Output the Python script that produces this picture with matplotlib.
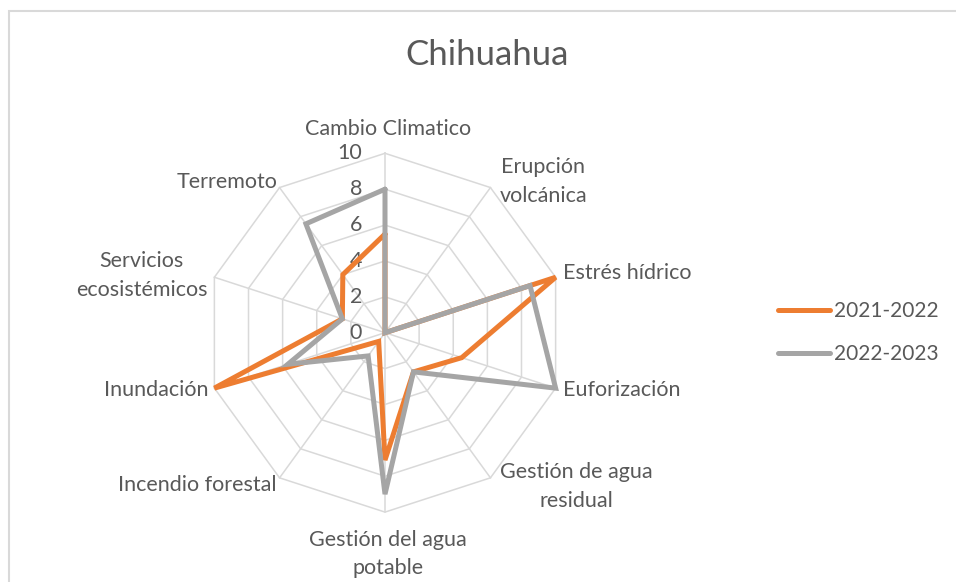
import numpy as np
import matplotlib
matplotlib.use("Agg")
import matplotlib.pyplot as plt
from matplotlib.patches import Rectangle

plt.rcParams['font.family'] = ['Lato', 'DejaVu Sans']

title = "Chihuahua"
categories = ["Cambio Climatico", "Erupción\nvolcánica", "Estrés hídrico", "Euforización",
              "Gestión de agua\nresidual", "Gestión del agua\npotable", "Incendio forestal",
              "Inundación", "Servicios\necosistémicos", "Terremoto"]
series_names = ["2021-2022", "2022-2023"]
values_2021 = [5.5, 0, 10, 4.5, 2.7, 7.1, 0.6, 10, 2.5, 4.0]
values_2022 = [8, 0, 8.5, 10, 2.7, 9, 1.6, 5.7, 2.5, 7.5]
rticks = [0, 2, 4, 6, 8, 10]

colors = ["#ED7D31", "#A5A5A5"]
grid_color = "#D9D9D9"
text_color = "#595959"

W, H = 956, 582
fig = plt.figure(figsize=(W / 100, H / 100), dpi=100)
cx, cy, R = 385, 332.7, 179.4
ax = fig.add_axes([(cx - R) / W, (H - cy - R) / H, 2 * R / W, 2 * R / H], projection='polar')
ax.set_theta_zero_location('N')
ax.set_theta_direction(-1)
ax.set_ylim(0, 10)
ax.grid(False)
ax.spines['polar'].set_visible(False)
ax.set_xticks([])
ax.set_yticks([])
ax.patch.set_alpha(0)

n = len(categories)
angles = np.arange(n) * 2 * np.pi / n
ang_c = np.append(angles, angles[0])

fs = 15.5

# polygon grid
for r in rticks[1:]:
    ax.plot(ang_c, [r] * (n + 1), color=grid_color, lw=1.1, zorder=1, clip_on=False)
for a in angles:
    ax.plot([a, a], [0, 10], color=grid_color, lw=1.1, zorder=1, clip_on=False)

# radial tick labels
for r in rticks:
    ax.annotate(str(r), xy=(0, r), xytext=(-23, 0), textcoords='offset pixels',
                ha='right', va='center', fontsize=fs, color=text_color, zorder=2)

# series
for vals, col, name in zip([values_2021, values_2022], colors, series_names):
    v = np.append(vals, vals[0])
    ax.plot(ang_c, v, color=col, lw=3.6, label=name, zorder=3, clip_on=False,
            solid_joinstyle='miter', solid_capstyle='round')

# category labels
offsets = [(3, 24, 'center'), (53, 6, 'center'), (7, 4, 'left'), (7, -2, 'left'),
           (86, -9, 'center'), (3, -42, 'center'), (-3, -7, 'right'), (-6, -2, 'right'),
           (-73, 2, 'center'), (-2, 6, 'right')]
for a, lab, (dx, dy, ha) in zip(angles, categories, offsets):
    ax.annotate(lab, xy=(a, 10), xytext=(dx, dy), textcoords='offset pixels',
                ha=ha, va='center', multialignment='center', fontsize=fs,
                color=text_color, linespacing=1.55)

fig.text(487.5 / W, 1 - 55 / H, title, ha='center', va='center', fontsize=25, color=text_color)

leg = fig.legend(loc='center left', bbox_to_anchor=(778 / W, (H - 332.8) / H), frameon=False,
                 fontsize=15, handlelength=2.5, handletextpad=0.2, labelspacing=1.1,
                 borderpad=0, borderaxespad=0)
for t in leg.get_texts():
    t.set_color(text_color)

fig.add_artist(Rectangle((8.5 / W, -0.1), 1.2, (H - 10.5) / H + 0.1, transform=fig.transFigure,
                         fill=False, edgecolor=grid_color, lw=1.5))

fig.savefig("out.png", dpi=100)
